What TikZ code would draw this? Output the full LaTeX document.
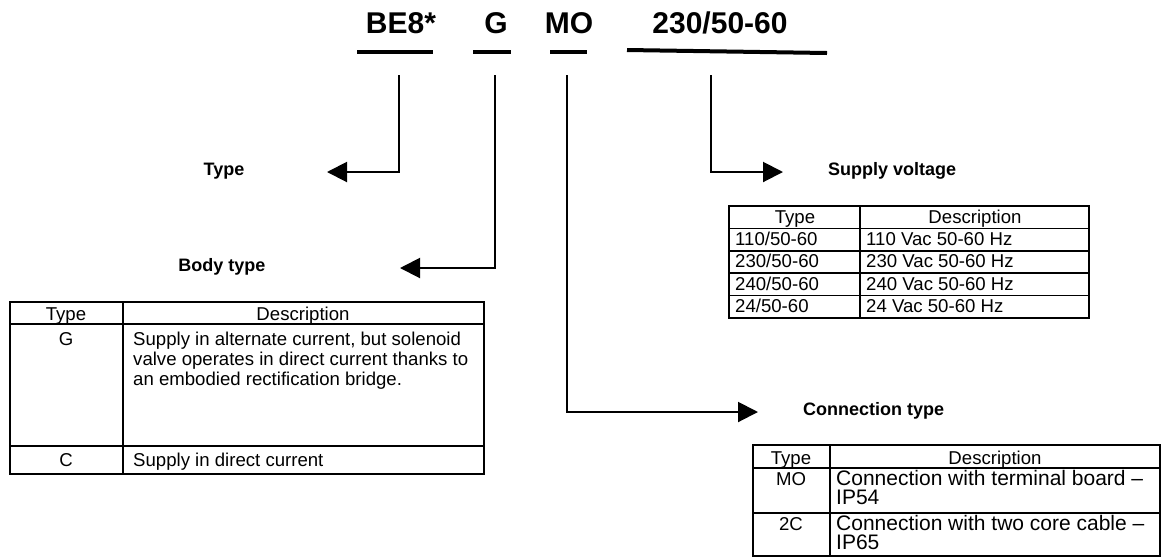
\documentclass[tikz,border=0pt]{standalone}
\usepackage{fontspec}
\setmainfont{Liberation Sans}
\usetikzlibrary{arrows.meta}
\tikzset{
  code/.style={font=\fontsize{30}{32}\selectfont\bfseries, anchor=base, inner sep=0pt},
  bar/.style={line width=4pt},
  conn/.style={line width=2pt, -{Triangle[length=20pt,width=20pt]}},
  title/.style={font=\fontsize{18}{20}\selectfont\bfseries, anchor=base, inner sep=0pt},
  cell/.style={font=\fontsize{18.6}{20}\selectfont, anchor=base, inner sep=0pt},
  cellw/.style={cell, anchor=base west},
  widecell/.style={cellw, font=\fontsize{21}{20}\selectfont},
  grid/.style={line width=1.6pt}
}
\begin{document}
\begin{tikzpicture}[x=1pt,y=-1pt]
\useasboundingbox (0,0) rectangle (1161,558);

% code
\node[code] (be8) at (401,33) {BE8*};
\node[code] (g) at (496,33) {G};
\node[code] (mo) at (569,33) {MO};
\node[code] (volt) at (720,33) {230/50-60};
\draw[bar] (357,52) -- (433,52);
\draw[bar] (473,52) -- (511,52);
\draw[bar] (550,52) -- (587,52);
\draw[bar] (627,50) -- (827,53);

% labels
\node[title] (type) at (224,175) {Type};
\node[title] (body) at (222,271) {Body type};
\node[title] (supply) at (892,175) {Supply voltage};
\node[title, anchor=base west] (connect) at (803,415) {Connection type};

% connectors
\coordinate (be8top) at (399,75);
\coordinate (gtop) at (495,75);
\coordinate (motop) at (567,75);
\coordinate (volttop) at (711,75);
\coordinate (typetip) at (327,172);
\coordinate (bodytip) at (400,268);
\coordinate (motip) at (758,412);
\coordinate (volttip) at (783,172);
\draw[conn] (be8top) |- (typetip);
\draw[conn] (gtop) |- (bodytip);
\draw[conn] (motop) |- (motip);
\draw[conn] (volttop) |- (volttip);

% body type table
\draw[grid] (10,302) rectangle (484,474);
\draw[grid] (10,324) -- (484,324);
\draw[grid] (10,446) -- (484,446);
\draw[grid] (123,302) -- (123,474);
\node[cell] (bt) at (66,320) {Type};
\node[cell] (bd) at (303,320) {Description};
\node[cell] (bg) at (66,345) {G};
\node[cellw] (bg1) at (133,345) {Supply in alternate current, but solenoid};
\node[cellw] (bg2) at (133,365) {valve operates in direct current thanks to};
\node[cellw] (bg3) at (133,385) {an embodied rectification bridge.};
\node[cell] (bc) at (66,466) {C};
\node[cellw] (bc1) at (133,466) {Supply in direct current};

% supply voltage table
\draw[grid] (729,206) rectangle (1089,318);
\foreach \y in {228.4,250.8,273.2,295.6}
  \draw[grid] (729,\y) -- (1089,\y);
\draw[grid] (860,206) -- (860,318);
\node[cell] (st) at (795,223) {Type};
\node[cell] (sd) at (975,223) {Description};
\foreach \v/\d [count=\i] in {{110/50-60}/{110 Vac 50-60 Hz},{230/50-60}/{230 Vac 50-60 Hz},{240/50-60}/{240 Vac 50-60 Hz},{24/50-60}/{24 Vac 50-60 Hz}}{
  \node[cellw] (sv\i) at (735,223+22.4*\i) {\v};
  \node[cellw] (sd\i) at (866,223+22.4*\i) {\d};
}

% connection type table
\draw[grid] (753,445) rectangle (1160,556);
\draw[grid] (753,468) -- (1160,468);
\draw[grid] (753,513) -- (1160,513);
\draw[grid] (830,445) -- (830,556);
\node[cell] (ct) at (791,464) {Type};
\node[cell] (cd) at (995,464) {Description};
\node[cell] (cmo) at (791,485) {MO};
\node[widecell] (cmo1) at (836,485) {Connection with terminal board –};
\node[widecell] (cmo2) at (836,504) {IP54};
\node[cell] (c2c) at (791,530) {2C};
\node[widecell] (c2c1) at (836,530) {Connection with two core cable –};
\node[widecell] (c2c2) at (836,549) {IP65};
\end{tikzpicture}
\end{document}
